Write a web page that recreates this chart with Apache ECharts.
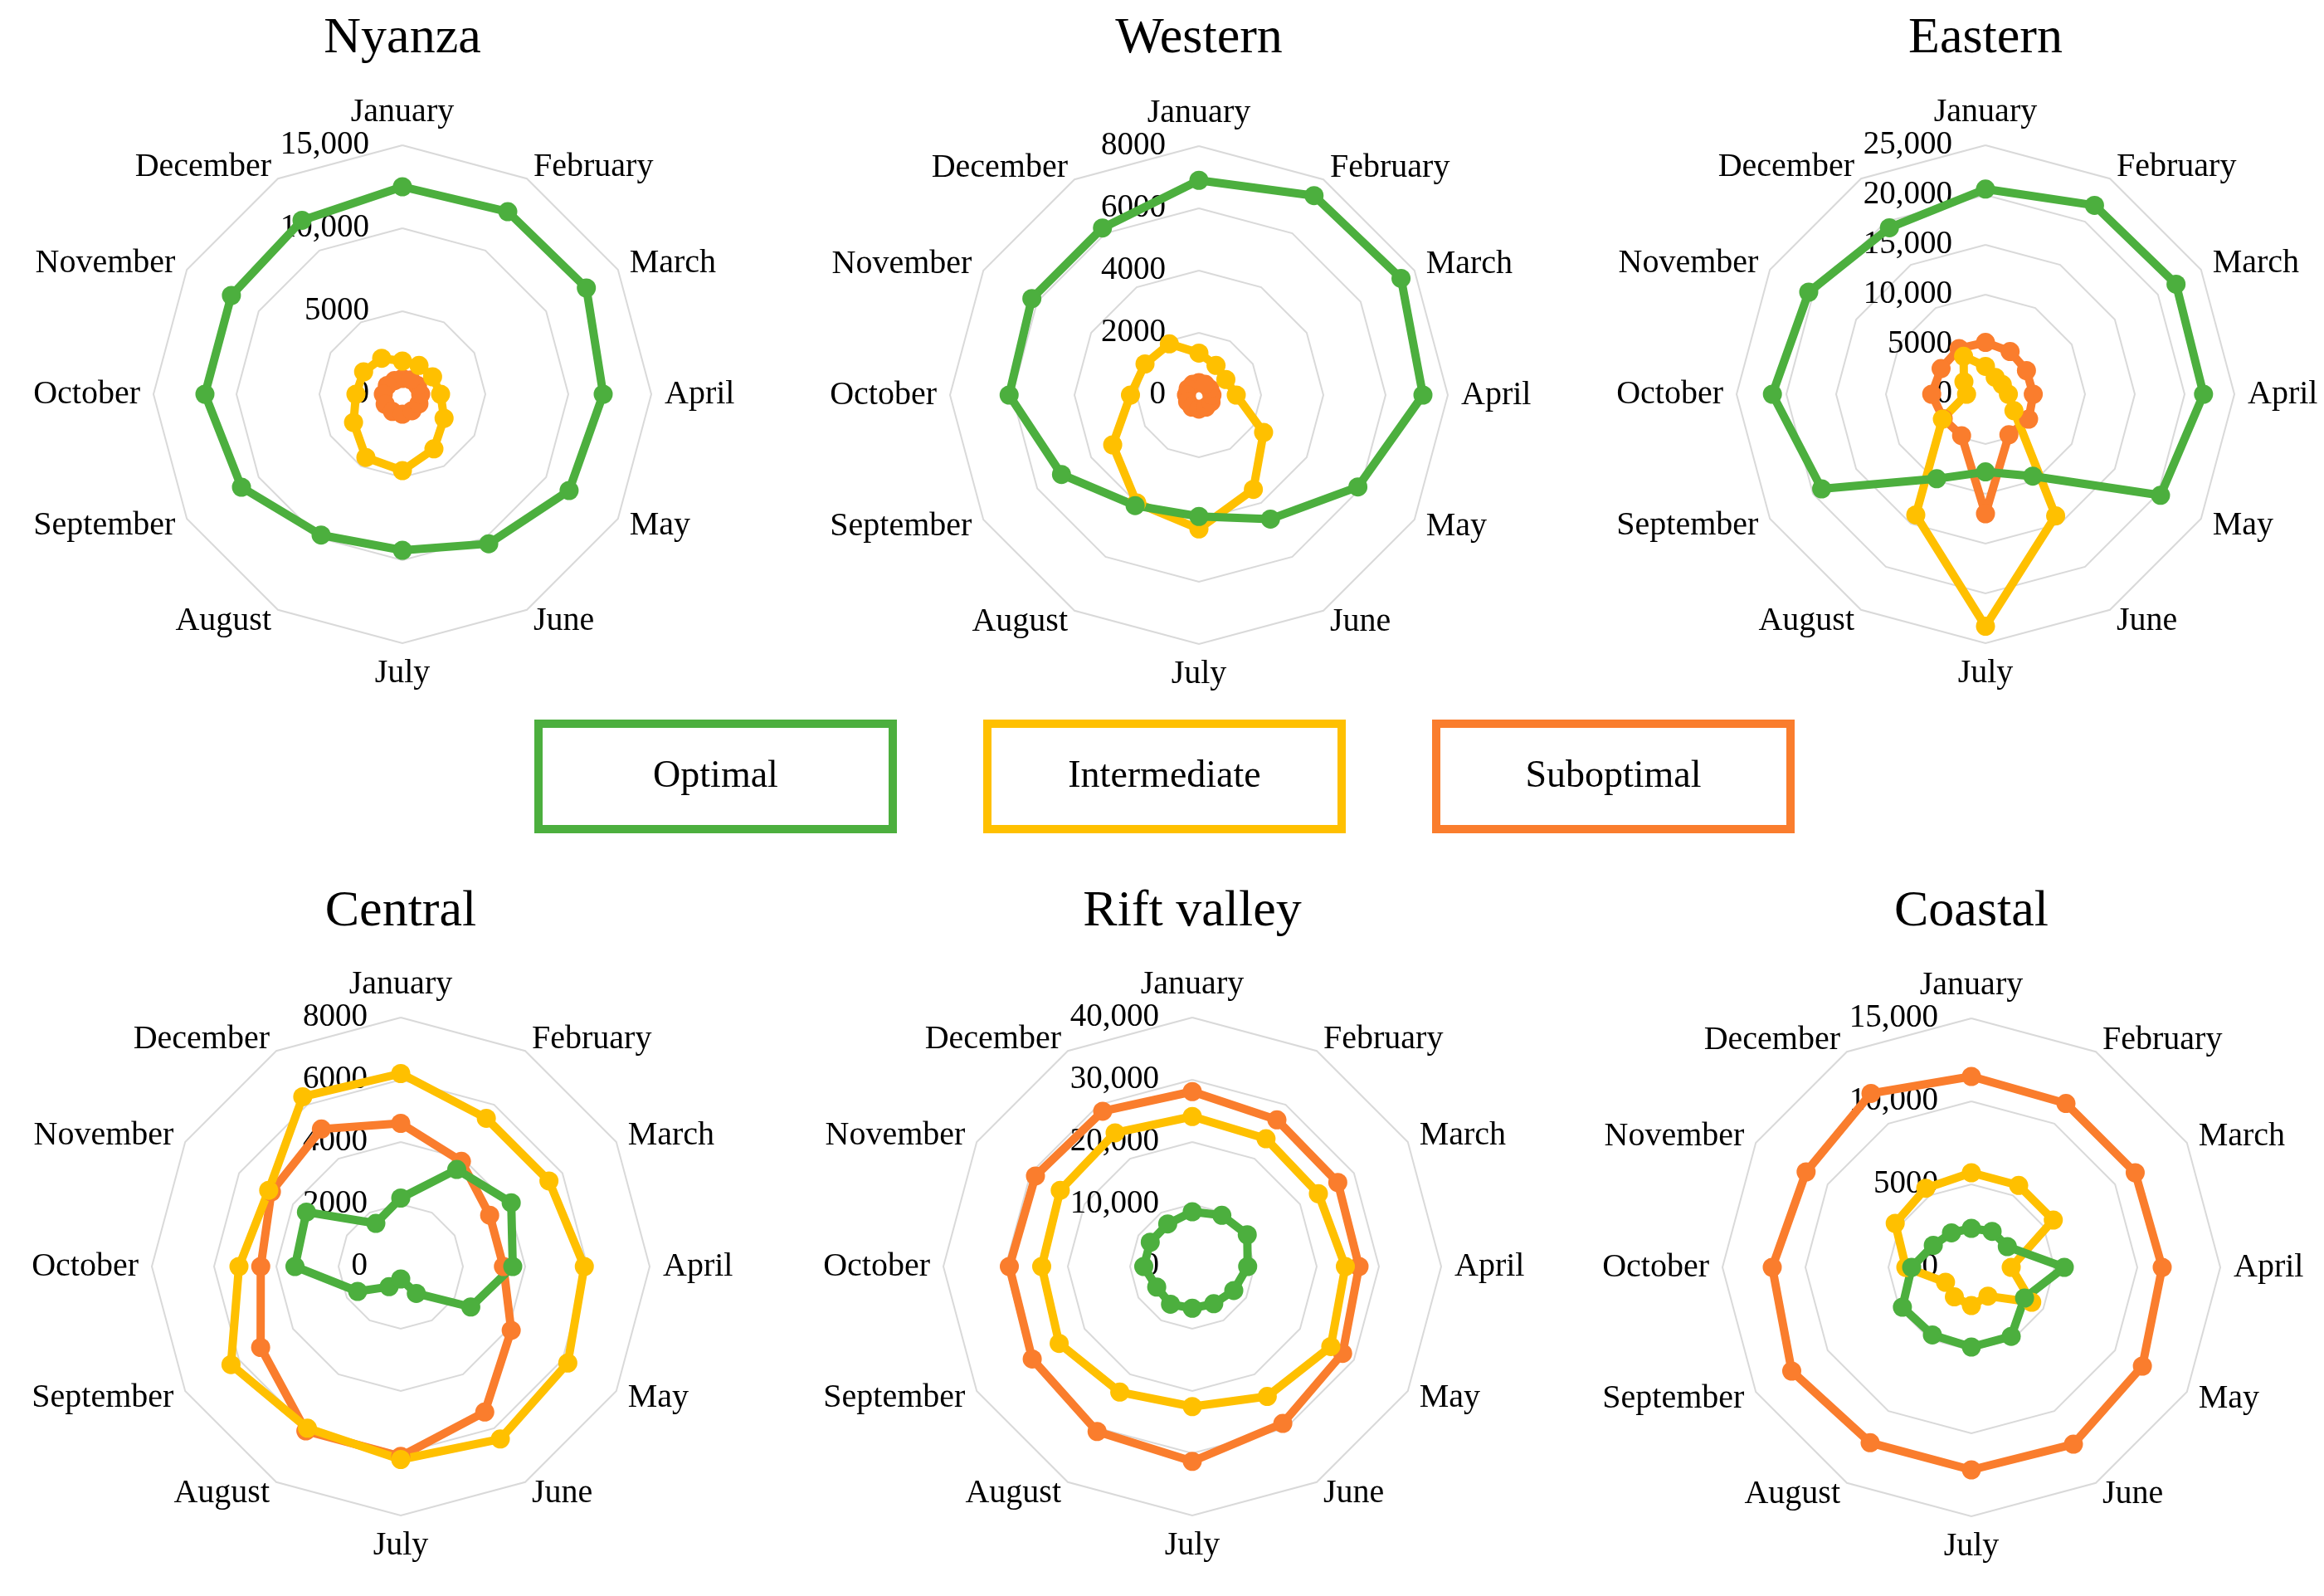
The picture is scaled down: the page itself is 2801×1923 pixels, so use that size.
<!DOCTYPE html>
<html>
<head>
<meta charset="utf-8">
<script src="https://cdn.jsdelivr.net/npm/echarts@6/dist/echarts.min.js"></script>
<style>
html,body{margin:0;padding:0;background:#ffffff;}
#chart{width:2801px;height:1923px;}
</style>
</head>
<body>
<div id="chart"></div>
<script>
// ---------------- data ----------------
const months = ['January','February','March','April','May','June','July','August','September','October','November','December'];
const regions = ['Nyanza','Western','Eastern','Central','Rift valley','Coastal'];
const seriesNames = ['Optimal','Intermediate','Suboptimal'];
const axisMax = [15000, 8000, 25000, 8000, 40000, 15000];
const axisSplits = [3, 4, 5, 4, 4, 3];

const nyanzaOptimal      = [12500, 12700, 12800, 12100, 11600, 10400, 9400, 9800, 11200, 11900, 11900, 12100];
const nyanzaIntermediate = [2000, 2000, 2100, 2300, 2900, 3800, 4600, 4400, 3400, 2800, 2700, 2500];
const nyanzaSuboptimal   = [950, 1000, 1050, 1100, 1150, 1150, 1200, 1200, 1200, 1150, 1050, 950];

const westernOptimal      = [6900, 7400, 7500, 7200, 5900, 4600, 3900, 4100, 5100, 6100, 6200, 6200];
const westernIntermediate = [1350, 1100, 1000, 1200, 2400, 3500, 4300, 4000, 3200, 2200, 2000, 1900];
const westernSuboptimal   = [400, 400, 400, 420, 450, 450, 450, 450, 420, 400, 400, 400];

const easternOptimal      = [20600, 21900, 22100, 21900, 20300, 9500, 7800, 9800, 19000, 21400, 20500, 19300];
const easternIntermediate = [2800, 1950, 1950, 2300, 3300, 14100, 23300, 14000, 5000, 1900, 2500, 4400];
const easternSuboptimal   = [5200, 4950, 4750, 4800, 5000, 4700, 12000, 4800, 4900, 5400, 5150, 5300];

const centralOptimal      = [2200, 3600, 4100, 3600, 2600, 1000, 400, 750, 1600, 3400, 3500, 1600];
const centralIntermediate = [6200, 5500, 5500, 5900, 6200, 6400, 6200, 6000, 6300, 5200, 4900, 6300];
const centralSuboptimal   = [4600, 3900, 3300, 3300, 4100, 5400, 6100, 6100, 5200, 4500, 4800, 5100];

const riftOptimal      = [8800, 9500, 10200, 8900, 7700, 6900, 6700, 7000, 6600, 7800, 7800, 7900];
const riftIntermediate = [24100, 23700, 23400, 24600, 25700, 24100, 22500, 23300, 24700, 24200, 24500, 24800];
const riftSuboptimal   = [28100, 27200, 27000, 26800, 27900, 29100, 31300, 30600, 29700, 29400, 29100, 28800];

const coastalOptimal      = [2350, 2500, 2500, 5600, 3700, 4800, 4800, 4700, 4800, 3600, 2650, 2400];
const coastalIntermediate = [5700, 5700, 5700, 2400, 4200, 2000, 2300, 2050, 1800, 3950, 5300, 5500];
const coastalSuboptimal   = [11500, 11400, 11400, 11500, 11900, 12300, 12200, 12200, 12500, 12000, 11500, 12100];

const regionData = [
  [nyanzaOptimal, nyanzaIntermediate, nyanzaSuboptimal],
  [westernOptimal, westernIntermediate, westernSuboptimal],
  [easternOptimal, easternIntermediate, easternSuboptimal],
  [centralOptimal, centralIntermediate, centralSuboptimal],
  [riftOptimal, riftIntermediate, riftSuboptimal],
  [coastalOptimal, coastalIntermediate, coastalSuboptimal]
];

// ---------------- style / layout ----------------
const colors = ['#4caf3e', '#ffc000', '#fa7d2d'];
const FONT = 'Liberation Serif';
const centers = [[485,475],[1445,476],[2393,475],[483,1526],[1437,1526],[2376,1527]];
const titleY = [47, 47, 47, 1099, 1099, 1099];
const RADIUS = 300;
// ECharts places indicators counter-clockwise; reorder so months run clockwise
const order = [0,11,10,9,8,7,6,5,4,3,2,1];

function fmt(v) {
  return v >= 10000 ? String(v).replace(/\B(?=(\d{3})+(?!\d))/g, ',') : String(v);
}

const radars = regions.map((r, i) => ({
  center: centers[i],
  radius: RADIUS,
  startAngle: 90,
  shape: 'polygon',
  splitNumber: axisSplits[i],
  nameGap: 16,
  axisName: { color: '#000', fontFamily: FONT, fontSize: 40 },
  indicator: order.map((m, k) => {
    const ind = { name: months[m], min: 0, max: axisMax[i] };
    if (k === 0) ind.axisLabel = { show: true };
    return ind;
  }),
  axisLine: { show: false },
  axisTick: { show: false },
  axisLabel: { show: false, color: '#000', fontFamily: FONT, fontSize: 39, margin: 40, formatter: fmt },
  splitLine: { lineStyle: { color: '#d9d9d9', width: 2 } },
  splitArea: { show: false }
}));

const series = [];
regions.forEach((r, i) => {
  // draw order: Suboptimal (bottom), Intermediate, Optimal (top)
  [2, 1, 0].forEach(s => {
    series.push({
      type: 'radar',
      radarIndex: i,
      name: seriesNames[s],
      symbol: 'circle',
      symbolSize: 23,
      lineStyle: { width: 10, color: colors[s] },
      itemStyle: { color: colors[s] },
      emphasis: { disabled: true },
      data: [{ value: order.map(m => regionData[i][s][m]), name: seriesNames[s] }]
    });
  });
});

const titles = regions.map((r, i) => ({
  type: 'text',
  x: centers[i][0],
  y: titleY[i],
  style: { text: r, fill: '#000', font: '62px "' + FONT + '"', textAlign: 'center', textVerticalAlign: 'middle' }
}));

const chart = echarts.init(document.getElementById('chart'), null, { renderer: 'canvas' });
chart.setOption({
  backgroundColor: '#ffffff',
  animation: false,
  radar: radars,
  series: series,
  graphic: titles,
  legend: {
    data: seriesNames.map((n, i) => ({ name: n, icon: 'none', textStyle: { borderColor: colors[i] } })),
    left: 639,
    top: 862,
    itemWidth: 0,
    itemHeight: 0,
    itemGap: 104,
    selectedMode: false,
    formatter: name => '{a|' + name + '}',
    textStyle: {
      borderWidth: 10,
      padding: 0,
      rich: {
        a: { width: 427, height: 127, lineHeight: 127, align: 'center', verticalAlign: 'middle',
             fontSize: 46, fontFamily: FONT, color: '#000' }
      }
    }
  }
});
</script>
</body>
</html>
